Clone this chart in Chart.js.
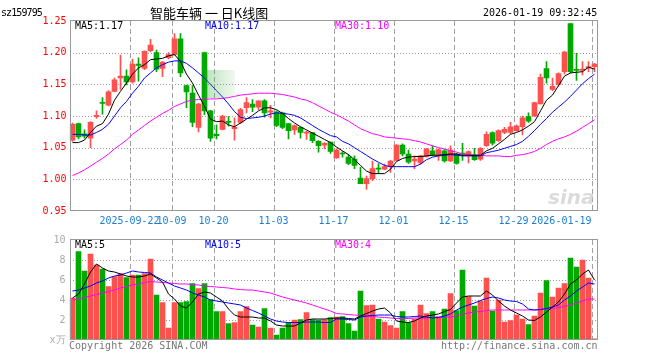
<!DOCTYPE html>
<html><head><meta charset="utf-8">
<script src="https://cdn.jsdelivr.net/npm/chart.js@4.4.1/dist/chart.umd.min.js"></script>
<style>
html,body{margin:0;padding:0;background:#fff;}
#wrap{position:relative;width:660px;height:360px;overflow:hidden;font-family:"DejaVu Sans Mono",monospace;font-size:10px;}
canvas{position:absolute;left:0;}
#c1{top:0;}
#c2{top:230px;}
.t{position:absolute;white-space:pre;line-height:12px;}
</style></head><body>
<div id="wrap">
<canvas id="c1" width="660" height="230"></canvas>
<canvas id="c2" width="660" height="130"></canvas>
<div class="t" style="left:1px;top:7px;letter-spacing:-0.9px">sz159795</div>
<div class="t" style="left:150px;top:5px;font-family:'Noto Sans CJK SC';font-size:13px;line-height:16px">智能车辆 一 日K线图</div>
<div class="t" style="left:483px;top:7px">2026-01-19 09:32:45</div>
<div class="t" style="left:75px;top:20px;color:#000">MA5:1.17</div>
<div class="t" style="left:205px;top:20px;color:#0000ff">MA10:1.17</div>
<div class="t" style="left:335px;top:20px;color:#ff00ff">MA30:1.10</div>
<div class="t" style="left:75px;top:239px;color:#000">MA5:5</div>
<div class="t" style="left:205px;top:239px;color:#0000ff">MA10:5</div>
<div class="t" style="left:335px;top:239px;color:#ff00ff">MA30:4</div>
<div class="t" style="left:69px;top:340px;color:#777">Copyright 2026 SINA.COM</div>
<div class="t" style="left:441px;top:340px;color:#777">http://finance.sina.com.cn</div>
<div class="t" style="left:548px;top:186px;font-family:'DejaVu Sans';font-weight:bold;font-style:italic;font-size:20px;line-height:22px;color:rgba(190,190,190,0.55)">sina</div>
<div style="position:absolute;left:205px;top:70px;width:30px;height:28px;background:linear-gradient(to right,rgba(60,170,60,0.35),rgba(140,200,140,0.12));"></div>
</div>
<script>
const dates = ["2025-09-08","2025-09-09","2025-09-10","2025-09-11","2025-09-12","2025-09-15","2025-09-16","2025-09-17","2025-09-18","2025-09-19",
"2025-09-22","2025-09-23","2025-09-24","2025-09-25","2025-09-26","2025-09-29","2025-09-30","2025-10-09","2025-10-10","2025-10-13",
"2025-10-14","2025-10-15","2025-10-16","2025-10-17","2025-10-20","2025-10-21","2025-10-22","2025-10-23","2025-10-24","2025-10-27",
"2025-10-28","2025-10-29","2025-10-30","2025-10-31","2025-11-03","2025-11-04","2025-11-05","2025-11-06","2025-11-07","2025-11-10",
"2025-11-11","2025-11-12","2025-11-13","2025-11-14","2025-11-17","2025-11-18","2025-11-19","2025-11-20","2025-11-21","2025-11-24",
"2025-11-25","2025-11-26","2025-11-27","2025-11-28","2025-12-01","2025-12-02","2025-12-03","2025-12-04","2025-12-05","2025-12-08",
"2025-12-09","2025-12-10","2025-12-11","2025-12-12","2025-12-15","2025-12-16","2025-12-17","2025-12-18","2025-12-19","2025-12-22",
"2025-12-23","2025-12-24","2025-12-25","2025-12-26","2025-12-29","2025-12-30","2025-12-31","2026-01-05","2026-01-06","2026-01-07",
"2026-01-08","2026-01-09","2026-01-12","2026-01-13","2026-01-14","2026-01-15","2026-01-16","2026-01-19"];

const tickDates = ["2025-09-22","2025-10-09","2025-10-20","2025-11-03","2025-11-17","2025-12-01","2025-12-15","2025-12-29","2026-01-19"];
const tickTexts = ["2025-09-22","10-09","10-20","11-03","11-17","12-01","12-15","12-29","2026-01-19          "];
const priceTicks = [0.95,1.00,1.05,1.10,1.15,1.20,1.25];
const volTicks = [0,2,4,6,8,10];

const open = [1.062,1.088,1.072,1.065,1.099,1.121,1.117,1.139,1.160,1.163,
1.154,1.182,1.175,1.203,1.200,1.175,1.192,1.197,1.222,1.148,
1.136,1.082,1.200,1.108,1.071,1.079,1.091,1.080,1.090,1.113,
1.119,1.114,1.124,1.106,1.106,1.105,1.088,1.078,1.082,1.073,
1.074,1.060,1.054,1.059,1.034,1.041,1.035,1.032,1.002,0.993,
1.001,1.017,1.016,1.020,1.030,1.054,1.040,1.029,1.026,1.036,
1.045,1.039,1.045,1.029,1.040,1.041,1.0375,1.0385,1.032,1.053,
1.074,1.061,1.074,1.074,1.077,1.083,1.099,1.100,1.119,1.175,
1.142,1.150,1.170,1.246,1.173,1.172,1.176,1.178];
const high = [1.089,1.089,1.078,1.091,1.108,1.129,1.140,1.160,1.196,1.173,
1.190,1.192,1.203,1.221,1.204,1.186,1.200,1.230,1.230,1.149,
1.148,1.120,1.201,1.109,1.086,1.101,1.099,1.097,1.112,1.129,
1.126,1.124,1.126,1.117,1.108,1.106,1.088,1.086,1.083,1.076,
1.074,1.061,1.058,1.059,1.048,1.044,1.039,1.037,1.019,1.005,
1.029,1.025,1.024,1.030,1.055,1.056,1.046,1.037,1.038,1.049,
1.053,1.048,1.047,1.053,1.041,1.057,1.045,1.049,1.050,1.075,
1.075,1.078,1.082,1.090,1.086,1.100,1.105,1.122,1.166,1.186,
1.160,1.168,1.202,1.246,1.199,1.186,1.186,1.183];
const low = [1.060,1.064,1.065,1.050,1.096,1.103,1.116,1.138,1.142,1.149,
1.152,1.155,1.173,1.201,1.170,1.162,1.190,1.196,1.162,1.113,
1.083,1.075,1.102,1.060,1.064,1.078,1.084,1.062,1.088,1.105,
1.107,1.110,1.098,1.097,1.083,1.080,1.064,1.071,1.065,1.063,
1.058,1.043,1.048,1.041,1.033,1.035,1.023,1.017,0.993,0.984,
0.998,1.009,1.015,1.011,1.029,1.037,1.025,1.017,1.024,1.035,
1.037,1.030,1.027,1.028,1.024,1.030,1.026,1.030,1.030,1.052,
1.054,1.060,1.072,1.072,1.076,1.070,1.090,1.099,1.119,1.152,
1.140,1.147,1.166,1.168,1.156,1.165,1.170,1.170];
const close = [1.087,1.067,1.068,1.090,1.101,1.120,1.138,1.157,1.163,1.154,
1.182,1.180,1.202,1.212,1.174,1.185,1.197,1.222,1.168,1.138,
1.090,1.119,1.108,1.065,1.069,1.100,1.090,1.082,1.110,1.121,
1.114,1.124,1.105,1.108,1.085,1.082,1.077,1.085,1.074,1.074,
1.061,1.053,1.057,1.044,1.046,1.040,1.025,1.022,0.993,1.001,
1.017,1.016,1.020,1.029,1.054,1.040,1.027,1.032,1.037,1.048,
1.039,1.047,1.029,1.046,1.025,1.040,1.044,1.031,1.049,1.071,
1.057,1.077,1.079,1.083,1.084,1.097,1.092,1.121,1.161,1.160,
1.147,1.167,1.201,1.170,1.172,1.174,1.178,1.182];

const ma5 = [1.058,1.058,1.062,1.074,1.084,1.088,1.103,1.125,1.139,1.152,
1.166,1.176,1.181,1.189,1.190,1.191,1.195,1.197,1.186,1.166,
1.152,1.133,1.115,1.095,1.091,1.092,1.086,1.083,1.089,1.095,
1.101,1.108,1.113,1.113,1.110,1.104,1.096,1.089,1.083,1.078,
1.073,1.068,1.063,1.058,1.051,1.045,1.039,1.031,1.022,1.013,
1.009,1.009,1.009,1.016,1.028,1.033,1.035,1.036,1.036,1.037,
1.038,1.038,1.039,1.040,1.040,1.038,1.038,1.038,1.038,1.045,
1.049,1.056,1.063,1.071,1.074,1.078,1.084,1.091,1.108,1.125,
1.133,1.148,1.163,1.168,1.169,1.170,1.177,1.174];
const ma10 = [1.071,1.071,1.070,1.070,1.074,1.079,1.087,1.100,1.113,1.123,
1.136,1.147,1.160,1.168,1.176,1.181,1.185,1.187,1.187,1.183,
1.176,1.168,1.160,1.150,1.140,1.130,1.119,1.107,1.098,1.096,
1.097,1.098,1.100,1.103,1.105,1.104,1.103,1.101,1.097,1.091,
1.085,1.079,1.074,1.069,1.067,1.060,1.056,1.050,1.044,1.038,
1.032,1.027,1.022,1.020,1.020,1.020,1.020,1.020,1.024,1.031,
1.035,1.037,1.038,1.039,1.038,1.037,1.037,1.037,1.037,1.042,
1.044,1.046,1.049,1.052,1.055,1.060,1.068,1.077,1.087,1.096,
1.106,1.114,1.122,1.131,1.141,1.151,1.159,1.166];
const ma30 = [1.006,1.010,1.015,1.021,1.027,1.033,1.040,1.048,1.055,1.062,
1.071,1.078,1.085,1.092,1.098,1.104,1.109,1.115,1.119,1.123,
1.125,1.126,1.126,1.127,1.127,1.128,1.129,1.131,1.133,1.134,
1.135,1.136,1.136,1.136,1.135,1.134,1.132,1.130,1.127,1.125,
1.121,1.116,1.111,1.106,1.102,1.097,1.092,1.086,1.080,1.076,
1.072,1.070,1.067,1.066,1.065,1.064,1.063,1.061,1.059,1.056,
1.053,1.050,1.048,1.045,1.043,1.040,1.039,1.038,1.038,1.037,
1.037,1.037,1.036,1.036,1.038,1.039,1.041,1.044,1.049,1.055,
1.060,1.064,1.067,1.071,1.076,1.082,1.088,1.094];

const volume = [4.2,8.85,6.9,8.6,7.5,7.1,5.35,6.35,6.65,6.25,
6.5,6.5,6.65,8.1,4.5,3.75,1.2,3.75,3.75,3.85,
5.65,5.15,5.65,4.05,2.85,2.85,1.65,1.75,2.85,3.35,
1.5,1.3,3.15,1.2,0.5,1.2,1.75,2.0,2.05,2.75,
2.05,2.0,2.05,2.25,2.3,2.35,1.65,0.9,4.9,3.45,
3.5,2.1,1.8,1.45,1.2,2.85,1.75,2.1,3.5,2.65,
2.85,2.35,3.1,4.65,2.95,7.0,4.35,3.4,3.9,6.2,
2.9,4.0,1.8,1.95,2.5,2.1,1.55,2.4,4.7,5.95,
4.3,5.2,5.65,8.2,7.3,8.0,6.2,0.12];
const vma5 = [4.2,4.6,5.6,6.8,7.6,7.2,6.9,6.8,6.6,6.4,
6.3,6.3,6.4,6.6,6.2,5.8,4.6,4.1,3.4,3.2,
3.8,4.6,4.8,4.7,4.3,3.9,3.1,2.5,2.3,2.3,
2.3,2.2,2.2,1.9,1.5,1.4,1.4,1.4,1.7,2.0,
2.1,2.1,2.1,2.15,2.2,2.2,2.15,2.1,2.4,2.65,
2.9,3.1,3.2,2.7,1.9,1.8,1.75,1.9,2.2,2.4,
2.5,2.6,2.85,3.05,3.7,4.3,4.4,4.4,4.4,4.9,
4.5,3.9,3.4,3.0,2.7,2.4,2.0,1.95,2.3,2.8,
3.3,3.8,4.6,5.6,6.0,6.6,7.0,6.0];
const vma10 = [4.9,5.0,5.2,5.4,5.7,5.9,6.2,6.4,6.5,6.7,
6.9,6.8,6.75,6.7,6.3,6.0,5.7,5.4,5.2,5.0,
4.7,4.5,4.3,4.0,3.9,3.8,3.7,3.6,3.5,3.2,
2.95,2.7,2.4,2.1,1.9,1.8,1.75,1.75,1.75,1.8,
1.8,1.8,1.75,1.75,2.1,2.1,2.05,2.0,2.3,2.4,
2.45,2.5,2.5,2.5,2.35,2.3,2.3,2.35,2.4,2.3,
2.2,2.25,2.4,2.6,3.0,3.3,3.5,3.7,3.95,4.15,
4.3,4.2,4.0,3.9,3.85,3.6,3.1,3.0,3.05,3.15,
3.3,3.5,4.0,4.4,4.9,5.3,5.7,5.6];
const vma30 = [4.0,4.1,4.25,4.4,4.55,4.7,4.85,5.0,5.2,5.35,
5.5,5.6,5.75,5.85,5.8,5.75,5.7,5.65,5.6,5.6,
5.55,5.5,5.4,5.35,5.3,5.25,5.2,5.1,5.05,5.0,
5.0,4.9,4.8,4.7,4.5,4.3,4.15,4.0,3.85,3.7,
3.5,3.3,3.1,2.9,2.65,2.6,2.55,2.5,2.45,2.4,
2.35,2.3,2.25,2.2,2.15,2.15,2.15,2.2,2.2,2.2,
2.25,2.25,2.3,2.3,2.4,2.6,2.7,2.8,2.85,2.95,
3.0,3.0,3.0,3.0,3.0,3.0,3.0,3.0,3.05,3.1,
3.15,3.25,3.35,3.5,3.7,3.9,4.1,4.1];

const RED = '#ff5050';
const GREEN = '#00a800';
const MONO = 'DejaVu Sans Mono';
const colorAt = i => (close[i] >= open[i] ? RED : GREEN);
const tickLabel = i => { const k = tickDates.indexOf(dates[i]); return k >= 0 ? tickTexts[k] : null; };

// frame and dotted / dashed grid, positioned through the chart's own scales
const frameGrid = {
  id: 'frameGrid',
  beforeDatasetsDraw(c, args, opts) {
    const a = c.chartArea, ctx = c.ctx, xs = c.scales.x, ys = c.scales.y;
    const t = Math.round(a.top), b = Math.round(a.bottom);
    const l = Math.round(a.left), r = Math.round(a.right);
    ctx.save();
    ctx.lineWidth = 1;
    ctx.strokeStyle = '#999999';
    ctx.setLineDash([1, 2]);
    opts.values.slice(1, -1).forEach(v => {
      const py = Math.round(ys.getPixelForValue(v)) + 0.5;
      ctx.beginPath(); ctx.moveTo(l, py); ctx.lineTo(r, py); ctx.stroke();
    });
    ctx.strokeStyle = '#a0a0a0';
    ctx.setLineDash([5, 3]);
    tickDates.forEach(d => {
      const px = Math.round(xs.getPixelForValue(dates.indexOf(d)) - 2.5) + 0.5;
      ctx.beginPath(); ctx.moveTo(px, t); ctx.lineTo(px, b); ctx.stroke();
    });
    ctx.restore();
  },
  afterDraw(c) {
    const a = c.chartArea, ctx = c.ctx;
    ctx.save();
    ctx.strokeStyle = '#999';
    ctx.lineWidth = 1;
    ctx.setLineDash([]);
    const l = Math.round(a.left) + 0.5, t = Math.round(a.top) - 0.5;
    const r = Math.round(a.right) - 0.5, b = Math.round(a.bottom) - 0.5;
    ctx.strokeRect(l, t, r - l, b - t);
    ctx.restore();
  }
};

function lineDs(data, color) {
  return { type: 'line', data: data, borderColor: color, borderWidth: 1, pointRadius: 0, tension: 0, fill: false, order: 0 };
}

const xScale = (showLabels) => ({
  offset: true,
  grid: { display: false, drawTicks: false },
  border: { display: false },
  ticks: {
    display: showLabels, autoSkip: false, maxRotation: 0, minRotation: 0, padding: 4, labelOffset: -3,
    color: '#1a7fd4', font: { family: MONO, size: 10 },
    callback: (v, i) => tickLabel(i)
  },
  afterFit: s => { s.height = showLabels ? 19 : 0; }
});

const yScale = (vals, color, pad, fmt) => ({
  min: vals[0], max: vals[vals.length - 1],
  afterBuildTicks: s => { s.ticks = vals.map(v => ({ value: v })); },
  grid: { display: false, drawTicks: false },
  border: { display: false },
  ticks: { padding: pad, color: color, font: { family: MONO, size: 10 }, callback: fmt },
  afterFit: s => { s.width = 69.5; }
});

new Chart(document.getElementById('c1'), {
  type: 'bar',
  data: {
    labels: dates,
    datasets: [
      lineDs(ma5, '#000000'),
      lineDs(ma10, '#0000ff'),
      lineDs(ma30, '#ff00ff'),
      { data: dates.map((d, i) => [open[i], close[i]]), backgroundColor: ctx => colorAt(ctx.dataIndex),
        barThickness: 5, grouped: false, minBarLength: 1, order: 1 },
      { data: dates.map((d, i) => [low[i], high[i]]), backgroundColor: ctx => colorAt(ctx.dataIndex),
        barThickness: 1, grouped: false, order: 2 }
    ]
  },
  options: {
    responsive: false, animation: false, events: [],
    layout: { padding: { left: 0, right: 62.5, top: 21, bottom: 0 } },
    plugins: { legend: { display: false }, tooltip: { enabled: false }, frameGrid: { values: priceTicks } },
    scales: {
      x: xScale(true),
      y: yScale(priceTicks, '#ff0000', 3, v => Number(v).toFixed(2))
    }
  },
  plugins: [frameGrid]
});

new Chart(document.getElementById('c2'), {
  type: 'bar',
  data: {
    labels: dates,
    datasets: [
      lineDs(vma5, '#000000'),
      lineDs(vma10, '#0000ff'),
      lineDs(vma30, '#ff00ff'),
      { data: volume, backgroundColor: ctx => colorAt(ctx.dataIndex), barThickness: 5, grouped: false, order: 1 }
    ]
  },
  options: {
    responsive: false, animation: false, events: [],
    layout: { padding: { left: 0, right: 62.5, top: 10, bottom: 20 } },
    plugins: { legend: { display: false }, tooltip: { enabled: false }, frameGrid: { values: volTicks } },
    scales: {
      x: xScale(false),
      y: yScale(volTicks, '#aaaaaa', 4, v => (v === 0 ? 'x万' : String(v)))
    }
  },
  plugins: [frameGrid]
});
</script>
</body></html>
